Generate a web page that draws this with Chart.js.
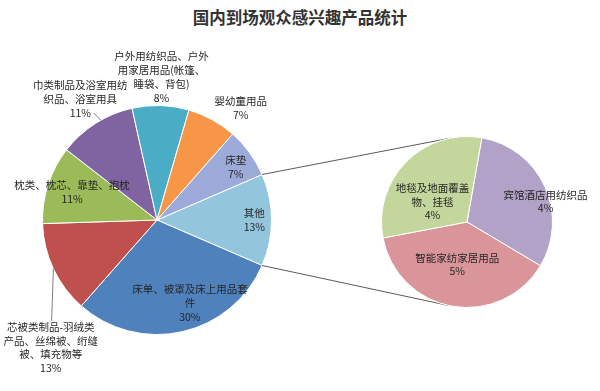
<!DOCTYPE html>
<html>
<head>
<meta charset="utf-8">
<script src="https://cdn.jsdelivr.net/npm/chart.js@4.4.0/dist/chart.umd.min.js"></script>
<style>
body{margin:0;background:#fff;}
#wrap{position:relative;width:600px;height:391px;overflow:hidden;}
#title{position:absolute;left:0;top:7px;width:600px;text-align:center;font:bold 16.5px/20px "Noto Sans CJK SC";color:#333;}
canvas{position:absolute;left:0;top:0;}
</style>
</head>
<body>
<div id="wrap">
  <div id="title">国内到场观众感兴趣产品统计</div>
  <canvas id="mainPie" width="600" height="391"></canvas>
  <canvas id="subPie" width="600" height="391"></canvas>
</div>
<script>
// main pie, clockwise starting with the split-off slice
const mainCategories = [
  ['其他'],
  ['床单、被罩及床上用品套', '件'],
  ['芯被类制品-羽绒类', '产品、丝绵被、绗缝', '被、填充物等'],
  ['枕类、枕芯、靠垫、抱枕'],
  ['巾类制品及浴室用纺', '织品、浴室用具'],
  ['户外用纺织品、户外', '用家居用品(帐篷、', '睡袋、背包)'],
  ['婴幼童用品'],
  ['床垫']
];
const mainValues = [13, 30, 13, 11, 11, 8, 7, 7];
const mainColors = ['#93C5DC', '#4F81BD', '#C0504D', '#9BBB59', '#8064A2', '#4BACC6', '#F79646', '#9BAAD8'];

// breakdown of 其他
const subCategories = [
  ['宾馆酒店用纺织品'],
  ['智能家纺家居用品'],
  ['地毯及地面覆盖', '物、挂毯']
];
const subValues = [4, 5, 4];
const subColors = ['#B3A2C7', '#D9959A', '#C3D69B'];

// label placement: f = fraction of radius, da = angle shift (deg), leader = share of way to label
const mainPlace = [
  {f: 0.85, da: 0},
  {f: 0.78, da: -9},
  {f: 1.45, da: -25, leader: 0.66, la: 0},
  {f: 0.78, da: 0},
  {f: 1.25, da: 0, leader: 0.35, la: 3},
  {f: 1.25, da: 0},
  {f: 1.22, da: 8},
  {f: 0.83, da: 2}
];
const subPlace = [
  {f: 0.95, da: 10},
  {f: 0.51, da: 3},
  {f: 0.47, da: -14}
];

const deg = Math.PI / 180;

const sliceLabels = {
  id: 'sliceLabels',
  afterDatasetsDraw(chart, args, opts) {
    const ctx = chart.ctx;
    const meta = chart.getDatasetMeta(0);
    const vals = chart.data.datasets[0].data;
    ctx.save();
    ctx.font = '10.5px "Noto Sans CJK SC"';
    ctx.fillStyle = '#262626';
    ctx.strokeStyle = '#808080';
    ctx.lineWidth = 1;
    ctx.textAlign = 'center';
    ctx.textBaseline = 'middle';
    meta.data.forEach((arc, i) => {
      const p = arc.getProps(['x', 'y', 'startAngle', 'endAngle', 'outerRadius'], true);
      const pl = opts.place[i];
      const mid = (p.startAngle + p.endAngle) / 2;
      const a = mid + pl.da * deg;
      const cx = p.x + Math.cos(a) * p.outerRadius * pl.f;
      const cy = p.y + Math.sin(a) * p.outerRadius * pl.f;
      const lines = chart.data.labels[i].concat(vals[i] + '%');
      const lh = 13.8;
      const top = cy - (lines.length - 1) * lh / 2;
      if (pl.leader) {
        const la = mid + pl.la * deg;
        const ex = p.x + Math.cos(la) * p.outerRadius;
        const ey = p.y + Math.sin(la) * p.outerRadius;
        ctx.beginPath();
        ctx.moveTo(ex, ey);
        ctx.lineTo(ex + (cx - ex) * pl.leader, ey + (cy - ey) * pl.leader);
        ctx.stroke();
      }
      lines.forEach((s, k) => ctx.fillText(s, cx, top + k * lh));
    });
    ctx.restore();
  }
};

const mainChart = new Chart(document.getElementById('mainPie'), {
  type: 'pie',
  data: {
    labels: mainCategories,
    datasets: [{
      data: mainValues,
      backgroundColor: mainColors,
      borderColor: '#ffffff',
      borderWidth: 1
    }]
  },
  options: {
    responsive: false,
    animation: false,
    rotation: 90 - mainValues[0] / 100 * 180,
    layout: {padding: {left: 42, right: 328, top: 105, bottom: 56}},
    plugins: {
      legend: {display: false},
      tooltip: {enabled: false},
      sliceLabels: {place: mainPlace}
    }
  },
  plugins: [sliceLabels]
});

// lines from the split slice to the tangents of the second pie
const connectors = {
  id: 'connectors',
  beforeDatasetsDraw(chart) {
    const big = mainChart.getDatasetMeta(0).data[0].getProps(['x', 'y', 'startAngle', 'endAngle', 'outerRadius'], true);
    const small = chart.getDatasetMeta(0).data[0].getProps(['x', 'y', 'outerRadius'], true);
    const ctx = chart.ctx;
    ctx.save();
    ctx.strokeStyle = '#595959';
    ctx.lineWidth = 1;
    [[big.startAngle, 1], [big.endAngle, -1]].forEach(([ang, side]) => {
      const px = big.x + Math.cos(ang) * big.outerRadius;
      const py = big.y + Math.sin(ang) * big.outerRadius;
      const dx = px - small.x, dy = py - small.y;
      const d = Math.hypot(dx, dy);
      const t = Math.atan2(dy, dx) + side * Math.acos(small.outerRadius / d);
      ctx.beginPath();
      ctx.moveTo(px, py);
      ctx.lineTo(small.x + Math.cos(t) * small.outerRadius, small.y + Math.sin(t) * small.outerRadius);
      ctx.stroke();
    });
    ctx.restore();
  }
};

const subChart = new Chart(document.getElementById('subPie'), {
  type: 'pie',
  data: {
    labels: subCategories,
    datasets: [{
      data: subValues,
      backgroundColor: subColors,
      borderColor: '#ffffff',
      borderWidth: 1
    }]
  },
  options: {
    responsive: false,
    animation: false,
    rotation: 10,
    layout: {padding: {left: 381, right: 47, top: 136, bottom: 83}},
    plugins: {
      legend: {display: false},
      tooltip: {enabled: false},
      sliceLabels: {place: subPlace}
    }
  },
  plugins: [connectors, sliceLabels]
});
</script>
</body>
</html>
